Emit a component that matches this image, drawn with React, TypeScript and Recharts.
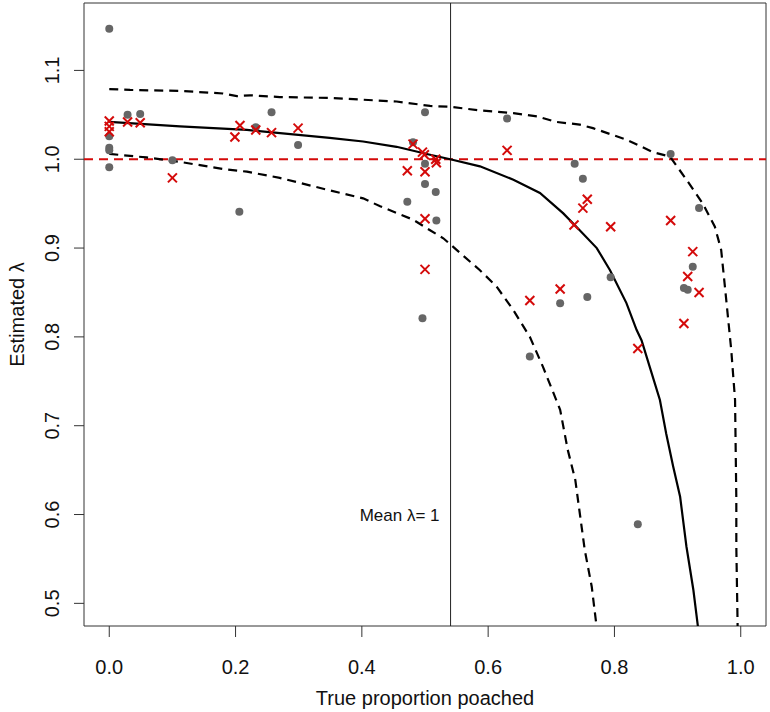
import React from 'react';
import {
  ComposedChart,
  Line,
  Scatter,
  XAxis,
  YAxis,
  ReferenceLine,
  ReferenceArea,
  ReferenceDot,
} from 'recharts';

// observed points (grey dots)
const dotX = [0, 0.029, 0.049, 0, 0, 0, 0, 0.1, 0.206, 0.232, 0.257, 0.299, 0.5, 0.481, 0.5, 0.5, 0.517, 0.472, 0.518, 0.63, 0.737, 0.75, 0.889, 0.934, 0.496, 0.714, 0.666, 0.924, 0.91, 0.916, 0.757, 0.794, 0.837];
const dotY = [1.147, 1.05, 1.051, 1.026, 1.013, 1.01, 0.991, 0.999, 0.941, 1.036, 1.053, 1.016, 1.053, 1.019, 0.995, 0.972, 0.963, 0.952, 0.931, 1.046, 0.995, 0.978, 1.006, 0.945, 0.821, 0.838, 0.778, 0.879, 0.855, 0.853, 0.845, 0.867, 0.589];

// estimated points (red crosses)
const crossX = [0, 0, 0, 0.029, 0.049, 0.1, 0.199, 0.207, 0.232, 0.257, 0.299, 0.481, 0.496, 0.499, 0.517, 0.518, 0.472, 0.5, 0.5, 0.5, 0.63, 0.736, 0.757, 0.75, 0.794, 0.889, 0.924, 0.916, 0.934, 0.91, 0.666, 0.714, 0.837];
const crossY = [1.043, 1.037, 1.031, 1.042, 1.041, 0.979, 1.025, 1.038, 1.033, 1.03, 1.035, 1.017, 1.008, 1.005, 1.0, 0.996, 0.987, 0.986, 0.933, 0.876, 1.01, 0.926, 0.955, 0.945, 0.924, 0.931, 0.896, 0.868, 0.85, 0.815, 0.841, 0.854, 0.787];

// mean curve
const meanX = [0, 0.112, 0.218, 0.349, 0.402, 0.455, 0.508, 0.54, 0.587, 0.64, 0.682, 0.719, 0.745, 0.772, 0.793, 0.819, 0.835, 0.843, 0.856, 0.872, 0.882, 0.893, 0.904, 0.914, 0.925, 0.932, 0.934];
const meanY = [1.042, 1.037, 1.033, 1.024, 1.02, 1.014, 1.005, 1.0, 0.992, 0.977, 0.962, 0.939, 0.92, 0.9, 0.875, 0.838, 0.808, 0.796, 0.766, 0.729, 0.691, 0.654, 0.62, 0.564, 0.515, 0.475, 0.46];

// upper envelope
const upperX = [0, 0.033, 0.112, 0.18, 0.202, 0.223, 0.27, 0.349, 0.402, 0.455, 0.508, 0.54, 0.587, 0.64, 0.679, 0.708, 0.745, 0.766, 0.819, 0.861, 0.888, 0.914, 0.94, 0.959, 0.969, 0.977, 0.985, 0.991, 0.992, 0.993, 0.993, 0.995, 0.995];
const upperY = [1.079, 1.078, 1.077, 1.074, 1.071, 1.072, 1.07, 1.069, 1.067, 1.065, 1.06, 1.059, 1.055, 1.052, 1.048, 1.042, 1.039, 1.035, 1.022, 1.008, 1.003, 0.977, 0.95, 0.924, 0.898, 0.842, 0.785, 0.729, 0.673, 0.618, 0.564, 0.478, 0.45];

// lower envelope
const lowerX = [0, 0.059, 0.112, 0.181, 0.218, 0.27, 0.349, 0.402, 0.429, 0.481, 0.508, 0.529, 0.55, 0.587, 0.613, 0.64, 0.666, 0.687, 0.714, 0.726, 0.738, 0.745, 0.753, 0.764, 0.771, 0.772];
const lowerY = [1.006, 1.002, 0.997, 0.989, 0.986, 0.979, 0.965, 0.956, 0.947, 0.932, 0.92, 0.911, 0.898, 0.875, 0.857, 0.83, 0.8, 0.766, 0.718, 0.673, 0.639, 0.602, 0.56, 0.519, 0.478, 0.45];

const xTicks = [0, 0.2, 0.4, 0.6, 0.8, 1.0];
const yTicks = [0.5, 0.6, 0.7, 0.8, 0.9, 1.0, 1.1];

const meanPoached = 0.5405;

const pairs = (xs: number[], ys: number[]) => xs.map((x, i) => ({ x, y: ys[i] }));

const FONT = '"Liberation Sans", Arial, Helvetica, sans-serif';
const RED = '#d40a0a';
const X_DOMAIN = [-0.04, 1.04];
const Y_DOMAIN = [0.4745, 1.1759];

const Dot = (p: any) => <circle cx={p.cx} cy={p.cy} r={4} fill="#666666" />;

const Cross = (p: any) => {
  const s = 4.5;
  return (
    <g stroke={RED} strokeWidth={2}>
      <line x1={p.cx - s} y1={p.cy - s} x2={p.cx + s} y2={p.cy + s} />
      <line x1={p.cx - s} y1={p.cy + s} x2={p.cx + s} y2={p.cy - s} />
    </g>
  );
};

const YTick = (p: any) => {
  const tx = 59.5;
  return (
    <text
      x={tx}
      y={p.y}
      transform={`rotate(-90 ${tx} ${p.y})`}
      textAnchor="middle"
      fontSize={20}
      fontFamily={FONT}
      fill="#111"
    >
      {p.payload.value.toFixed(1)}
    </text>
  );
};

export default function App() {
  return (
    <div style={{ position: 'absolute', left: 0, top: 0, width: 770, height: 712, background: '#fff' }}>
      <ComposedChart width={770} height={712} margin={{ top: 3, right: 4, bottom: 0, left: 0 }}>
        <XAxis
          type="number"
          dataKey="x"
          domain={X_DOMAIN}
          allowDataOverflow
          ticks={xTicks}
          tickFormatter={(v: number) => v.toFixed(1)}
          axisLine={false}
          tickSize={11}
          tickMargin={23}
          tickLine={{ stroke: '#333' }}
          tick={{ fontSize: 20, fill: '#111', fontFamily: FONT }}
          height={86}
          label={{ value: 'True proportion poached', position: 'insideBottom', offset: 7, fontSize: 20, fill: '#111', fontFamily: FONT }}
        />
        <YAxis
          type="number"
          dataKey="y"
          domain={Y_DOMAIN}
          allowDataOverflow
          ticks={yTicks}
          axisLine={false}
          tickSize={10}
          tickLine={{ stroke: '#333' }}
          tick={<YTick />}
          width={84}
          label={{
            content: () => (
              <text x={24} y={314.5} transform="rotate(-90 24 314.5)" textAnchor="middle" fontSize={20} fontFamily={FONT} fill="#111">
                Estimated λ
              </text>
            ),
          }}
        />
        <ReferenceLine x={meanPoached} stroke="#222" strokeWidth={1} />
        <ReferenceLine y={1} stroke={RED} strokeWidth={2} strokeDasharray="9 6" />
        <Line data={pairs(upperX, upperY)} dataKey="y" stroke="#000" strokeWidth={2.2} strokeDasharray="9 6" dot={false} isAnimationActive={false} />
        <Line data={pairs(lowerX, lowerY)} dataKey="y" stroke="#000" strokeWidth={2.2} strokeDasharray="9 6" dot={false} isAnimationActive={false} />
        <Line data={pairs(meanX, meanY)} dataKey="y" stroke="#000" strokeWidth={2.2} dot={false} isAnimationActive={false} />
        <Scatter data={pairs(dotX, dotY)} dataKey="y" shape={Dot} isAnimationActive={false} />
        <Scatter data={pairs(crossX, crossY)} dataKey="y" shape={Cross} isAnimationActive={false} />
        <ReferenceDot
          x={meanPoached}
          y={0.6}
          r={0}
          fill="none"
          stroke="none"
          label={{ value: 'Mean λ= 1', position: 'left', offset: 11, fontSize: 17, fill: '#111', fontFamily: FONT }}
        />
        <ReferenceArea x1={X_DOMAIN[0]} x2={X_DOMAIN[1]} y1={Y_DOMAIN[0]} y2={Y_DOMAIN[1]} fill="none" stroke="#333" strokeWidth={1} />
      </ComposedChart>
    </div>
  );
}
